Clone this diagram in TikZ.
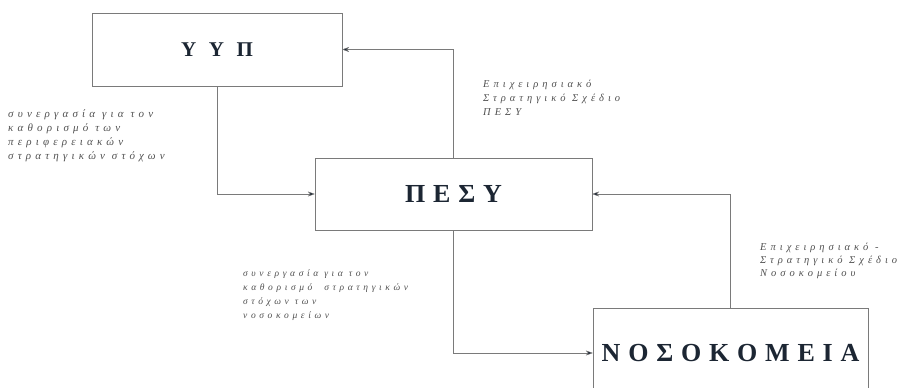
\documentclass[tikz,border=0pt]{standalone}
\usepackage{fontspec}
\setmainfont{Liberation Serif}
\newfontfamily\notefont[LetterSpace=38]{Liberation Serif}
\usetikzlibrary{arrows.meta}
\definecolor{linegray}{HTML}{7A7A7A}
\definecolor{inkblue}{HTML}{1C2633}
\definecolor{notegray}{HTML}{505050}
\begin{document}
\begin{tikzpicture}[x=1pt,y=-1pt,
		box/.style={draw=linegray, thin, inner sep=0pt, text=inkblue,
			font={\bfseries\fontsize{26}{30}\selectfont\spaceskip=0.3em\relax}},
		note/.style={anchor=north west, inner sep=0pt, align=left, text=notegray,
			font={\notefont\itshape\fontsize{11}{14}\selectfont}},
		link/.style={draw=linegray, thin, -{Stealth[length=7pt,width=5pt,fill=inkblue]}}
	]
		\clip (0,0) rectangle (905,388);
		% boxes
		\node[box, minimum width=250pt, minimum height=73pt,
			font={\bfseries\fontsize{21}{24}\selectfont\spaceskip=0.6em\relax}
		] (yyp) at (217,49.5) {Υ Υ Π};
		\node[box, minimum width=277pt, minimum height=72pt] (pesy) at (453.5,194) {Π Ε Σ Υ};
		\node[box, minimum width=275pt, minimum height=90pt] (noso) at (730.5,353) {Ν Ο Σ Ο Κ Ο Μ Ε Ι Α};
		% connectors
		\draw[link] (yyp.south) |- (pesy.west);
		\draw[link] (pesy.north) |- (yyp.east);
		\draw[link] (pesy.south) |- (noso.west);
		\draw[link] (noso.north) |- (pesy.east);
		% labels
		\node[note] (lblyyp) at (8,110) {συνεργασία για τον\\καθορισμό των\\περιφερειακών\\στρατηγικών στόχων};
		\node[note, font={\notefont\itshape\fontsize{10.5}{14}\selectfont}] (lblpesy) at (483,80) {Επιχειρησιακό\\Στρατηγικό Σχέδιο\\ΠΕΣΥ};
		\node[note, font={\notefont\itshape\fontsize{9.5}{14}\selectfont}] (lblcoop) at (243,270) {συνεργασία για τον\\καθορισμό\ \ στρατηγικών\\στόχων των\\νοσοκομείων};
		\node[note, font={\notefont\itshape\fontsize{10.5}{13}\selectfont}] (lblnoso) at (760,243) {Επιχειρησιακό -\\Στρατηγικό Σχέδιο\\Νοσοκομείου};
	\end{tikzpicture}
\end{document}
